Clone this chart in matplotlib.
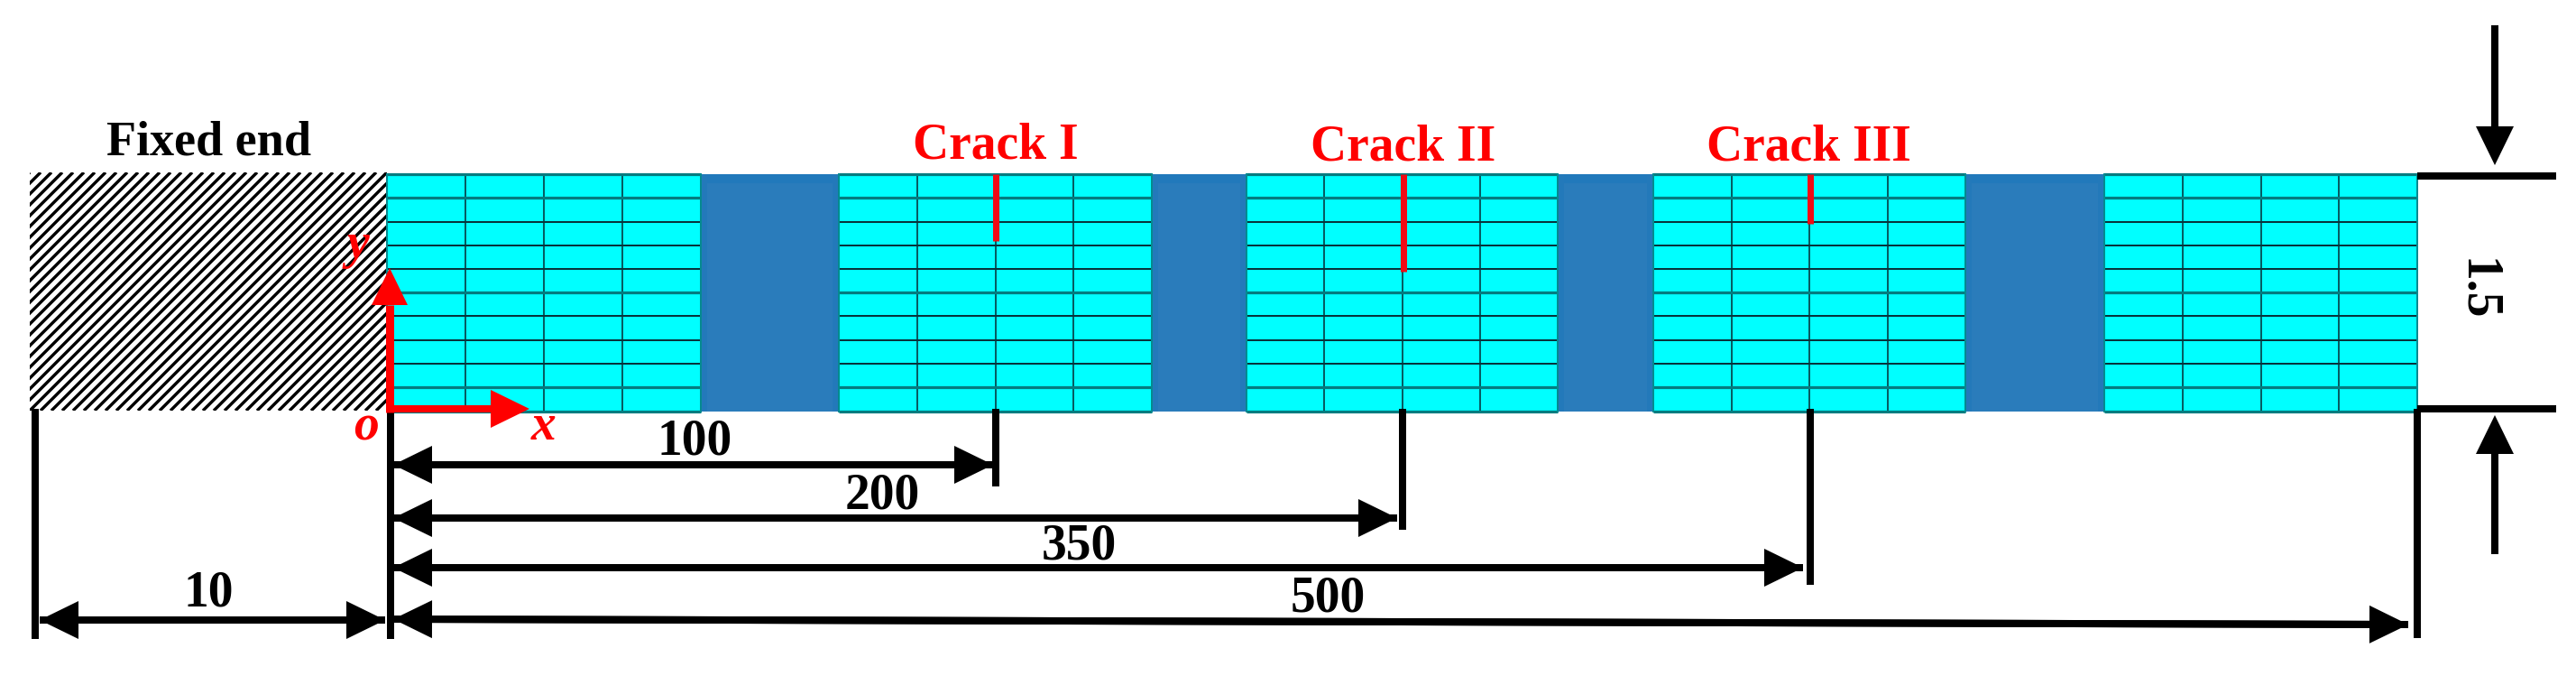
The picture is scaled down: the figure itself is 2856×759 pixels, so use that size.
import matplotlib
matplotlib.use("Agg")
import matplotlib.pyplot as plt
from matplotlib.patches import Rectangle

W, H = 2856, 759
DPI = 100
PX = 72 / DPI

# ---- geometry (pixel scale of the drawing) ----
cyan_blocks = [(429, 777), (930, 1277), (1382, 1727), (1833, 2179), (2333, 2680)]
dark_blocks = [(777, 930), (1277, 1382), (1727, 1833), (2179, 2333)]
row_edges = [193, 219, 246, 272, 298, 324, 350, 377, 403, 429, 456]
thick_rows = [219, 324, 429]
fixed_end = (33, 429, 191, 455)

crack_x = [1104, 1556, 2007]
crack_tip_y = [267, 301, 248]
crack_names = ["Crack I", "Crack II", "Crack III"]
crack_name_x = [1104, 1556, 2005]
crack_name_y = [175, 178, 178]

ext_x = [39, 433, 1104, 1555, 2007, 2680]
ext_end_y = [708, 708, 539, 587, 648, 707]

dim_labels = ["100", "200", "350", "500"]
dim_end_x = [1101, 1549, 1999, 2670]
dim_left_y = [515, 574, 629, 686]
dim_right_y = [515, 574, 629, 692]
dim_label_x = [770, 978, 1196, 1472]
dim_label_y = [503, 564, 619, 677]

hatch_period = 12.0
hatch_width = 3.4

plt.rcParams["font.family"] = ["Liberation Serif", "DejaVu Serif"]

fig = plt.figure(figsize=(W / DPI, H / DPI), dpi=DPI)
ax = fig.add_axes([0, 0, 1, 1])
ax.set_xlim(0, W)
ax.set_ylim(H, 0)
ax.axis("off")


def arrow(x0, y0, x1, y1, color="black", shaft=8, head_len=43, head_w=42, z=6):
    """Straight shaft with a filled triangular head whose tip is at (x1, y1)."""
    dx, dy = x1 - x0, y1 - y0
    L = (dx * dx + dy * dy) ** 0.5
    ux, uy = dx / L, dy / L
    bx, by = x1 - ux * head_len, y1 - uy * head_len
    ax.plot([x0, bx], [y0, by], color=color, lw=shaft * PX,
            solid_capstyle="butt", zorder=z)
    nx, ny = -uy, ux
    ax.fill([x1, bx + nx * head_w / 2, bx - nx * head_w / 2],
            [y1, by + ny * head_w / 2, by - ny * head_w / 2],
            color=color, lw=0, zorder=z)


# Fixed end hatching
x0, x1, y0, y1 = fixed_end
clip = Rectangle((x0, y0), x1 - x0, y1 - y0, transform=ax.transData)
span = y1 - y0
k = 0
while x0 + k * hatch_period < x1 + span:
    xb = x0 + k * hatch_period
    line, = ax.plot([xb, xb - span], [y0, y1], color="black",
                    lw=hatch_width * PX, solid_capstyle="butt", zorder=1)
    line.set_clip_path(clip)
    k += 1

# Beam blocks
top, bot = row_edges[0], row_edges[-1]
for a, b in dark_blocks:
    ax.add_patch(Rectangle((a, top), b - a, bot - top, facecolor="#2A7CBB",
                           edgecolor="none", zorder=2))
    ax.add_patch(Rectangle((a, top), b - a, 10, facecolor="#2179BB",
                           edgecolor="none", zorder=2))
    for xa in (a, b - 7):
        ax.add_patch(Rectangle((xa, top), 7, bot - top, facecolor="#2379BA",
                               edgecolor="none", zorder=2))
for a, b in cyan_blocks:
    ax.add_patch(Rectangle((a, top), b - a, bot - top, facecolor="#00FFFF",
                           edgecolor="none", zorder=2))
    for i in range(1, 4):
        xv = a + (b - a) * i / 4
        ax.plot([xv, xv], [top, bot], color="#08343C", lw=1.6 * PX, zorder=3)
    for yr in row_edges:
        thick = yr in thick_rows or yr in (top, bot)
        ax.plot([a, b], [yr, yr], color="#047C80" if thick else "#07333B",
                lw=(3.2 if thick else 2) * PX, solid_capstyle="butt", zorder=3)
    for xv in (a, b):
        ax.plot([xv, xv], [top, bot], color="#048A90", lw=2 * PX, zorder=3)

# Cracks
for cx, ty, nm, nx, ny in zip(crack_x, crack_tip_y, crack_names,
                              crack_name_x, crack_name_y):
    ax.plot([cx, cx], [top, ty], color="#F00A14", lw=7 * PX,
            solid_capstyle="butt", zorder=4)
    ax.text(nx, ny, nm, color="#FF0000", fontsize=40, fontweight="bold",
            ha="center", va="baseline", zorder=8)

# Extension lines
for xe, ye in zip(ext_x, ext_end_y):
    ax.plot([xe, xe], [453, ye], color="black", lw=8 * PX,
            solid_capstyle="butt", zorder=5)

# Local axes
arrow(432, 453, 587, 453, color="#FF0000", head_len=43, head_w=42, z=7)
arrow(432, 457, 432, 297, color="#FF0000", shaft=9, head_len=41, head_w=40, z=7)
for s, xt, yt in [("y", 397, 286), ("o", 406, 487), ("x", 603, 487)]:
    ax.text(xt, yt, s, color="#FF0000", fontsize=40, fontweight="bold",
            style="italic", ha="center", va="baseline", zorder=8)

# Length dimensions
for lab, xe, yl, yr, lx, ly in zip(dim_labels, dim_end_x, dim_left_y,
                                   dim_right_y, dim_label_x, dim_label_y):
    arrow(xe, yr, 436, yl)
    arrow(436, yl, xe, yr)
    ax.text(lx, ly, lab, color="black", fontsize=40, fontweight="bold",
            ha="center", va="baseline", zorder=8)

# Fixed length 10
arrow(427, 687, 44, 687)
arrow(44, 687, 427, 687)
ax.text(231, 672, "10", color="black", fontsize=40, fontweight="bold",
        ha="center", va="baseline", zorder=8)

ax.text(231, 172, "Fixed end", color="black", fontsize=39, fontweight="bold",
        ha="center", va="baseline", zorder=8)

# Height dimension
for yy in (195, 453):
    ax.plot([2680, 2834], [yy, yy], color="black", lw=8 * PX,
            solid_capstyle="butt", zorder=6)
arrow(2766, 28, 2766, 183)
arrow(2766, 614, 2766, 460)
ax.text(2746, 321, "1.5", color="black", fontsize=40, fontweight="bold",
        rotation=270, ha="center", va="center", zorder=8)

fig.savefig("out.png", dpi=DPI, facecolor="white")
